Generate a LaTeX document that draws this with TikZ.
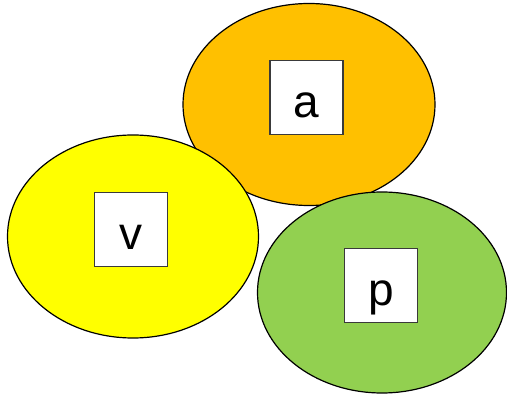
\documentclass[tikz,border=0pt]{standalone}
\usepackage{fontspec}
\setmainfont{Liberation Sans}
\usetikzlibrary{shapes.geometric}
\definecolor{orangefill}{HTML}{FFC000}
\definecolor{yellowfill}{HTML}{FFFF00}
\definecolor{greenfill}{HTML}{92D050}
\definecolor{boxedge}{HTML}{3A3A3A}
\tikzset{
  blob/.style={ellipse, draw=black, line width=1.2pt, inner sep=0pt},
  letterbox/.style={draw=boxedge, line width=1.6pt, fill=white, minimum width=73pt, minimum height=74pt, inner sep=0pt, font=\fontsize{46}{46}\selectfont, text height=40pt, text depth=0pt}
}
\begin{document}
\begin{tikzpicture}[x=1pt, y=-1pt]
\useasboundingbox (0,0) rectangle (507,398);
\node[blob, fill=orangefill, minimum width=252pt, minimum height=202pt] (ea) at (309,104.5) {};
\node[blob, fill=yellowfill, minimum width=251pt, minimum height=203pt] (ev) at (133,236.5) {};
\node[blob, fill=greenfill, minimum width=249pt, minimum height=201pt] (ep) at (382,292.5) {};
\node[letterbox] (a) at (306.5,97.5) {a};
\node[letterbox] (v) at (131,229.5) {v};
\node[letterbox] (p) at (381,285.5) {p};
\end{tikzpicture}
\end{document}
